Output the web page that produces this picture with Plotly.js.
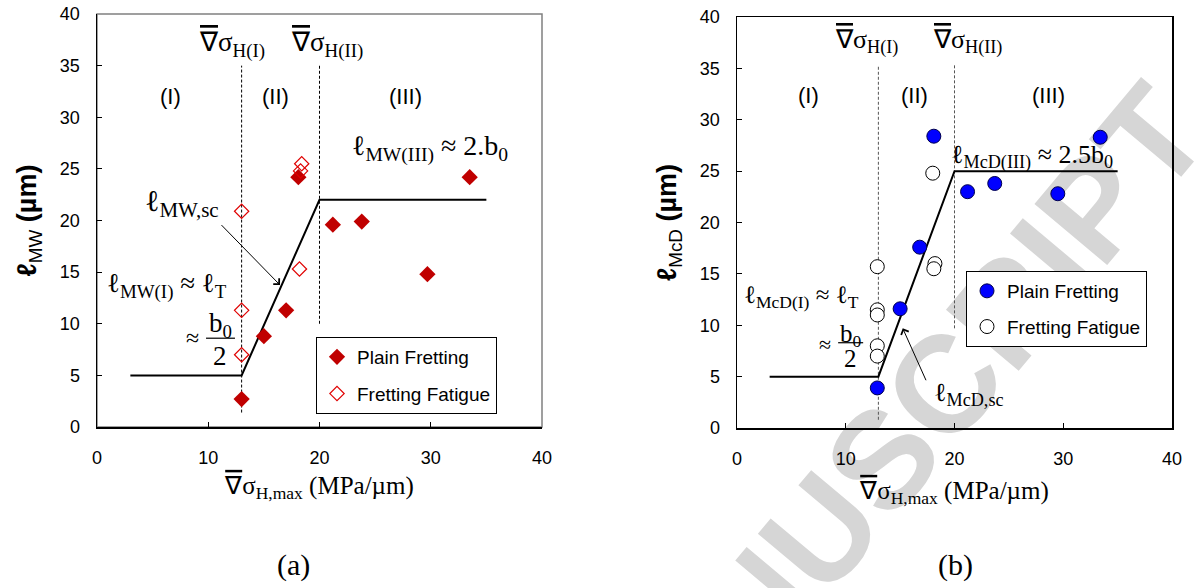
<!DOCTYPE html>
<html><head><meta charset="utf-8">
<script src="https://cdn.plot.ly/plotly-3.0.1.min.js"></script>
<style>html,body{margin:0;padding:0;background:#fff}#chart{width:1195px;height:588px}</style>
</head><body><div id="chart"></div>
<script>
// ---------- data: panel (a) Mitchell-Wright length ----------
const aPlainX   = [13.0, 15.0, 17.0, 18.1, 21.2, 23.8, 29.7, 33.5];
const aPlainY   = [2.7, 8.8, 11.3, 24.2, 19.6, 19.9, 14.8, 24.2];
const aFatigueX = [13.0, 13.0, 13.0, 18.2, 18.3, 18.4];
const aFatigueY = [20.9, 11.3, 7.0, 15.3, 24.8, 25.5];
const aModelX   = [3, 13, 20, 35];
const aModelY   = [5, 5, 22, 22];
const aThreshX  = [13, 20];
const aThreshLo = [1.4, 10];
const aThreshHi = [35, 35];

// ---------- data: panel (b) McDiarmid length ----------
const bPlainX   = [12.9, 15.0, 16.8, 18.1, 21.2, 23.7, 29.5, 33.4];
const bPlainY   = [3.9, 11.6, 17.6, 28.4, 23.0, 23.8, 22.8, 28.3];
const bFatigueX = [12.9, 12.9, 12.9, 12.9, 12.9, 18.2, 18.1, 18.0];
const bFatigueY = [15.7, 11.5, 11.0, 8.0, 7.0, 16.0, 15.5, 24.8];
const bModelX   = [3, 13, 20, 35];
const bModelY   = [5, 5, 25, 25];
const bThreshX  = [13, 20];
const bThreshLo = [0.8, 9.7];
const bThreshHi = [35.3, 35.3];

// ---------- ticks / labels ----------
const xTicks = [0, 10, 20, 30, 40];
const yTicks = [0, 5, 10, 15, 20, 25, 30, 35, 40];
const legendNames = ['Plain Fretting', 'Fretting Fatigue'];

const SANS = 'Liberation Sans, Arial, sans-serif';
const SERIF = 'Liberation Serif, Times New Roman, serif';
const NABLA = '<span style="text-decoration:overline">∇</span>';
const W = 1195, H = 588;

function vlines(xs, lo, hi) {
  const x = [], y = [];
  xs.forEach((v, i) => { x.push(v, v, null); y.push(lo[i], hi[i], null); });
  return {x, y};
}
const aV = vlines(aThreshX, aThreshLo, aThreshHi);
const bV = vlines(bThreshX, bThreshLo, bThreshHi);

const traces = [
  {x: aV.x, y: aV.y, xaxis: 'x', yaxis: 'y', mode: 'lines', showlegend: false, hoverinfo: 'skip',
   line: {color: '#000', width: 1, dash: '3px,2px'}},
  {x: aModelX, y: aModelY, xaxis: 'x', yaxis: 'y', mode: 'lines', showlegend: false,
   line: {color: '#000', width: 2}},
  {x: aPlainX, y: aPlainY, xaxis: 'x', yaxis: 'y', mode: 'markers', name: legendNames[0],
   legend: 'legend', legendgroup: 'ap',
   marker: {symbol: 'diamond', size: 12.5, color: '#C00000', line: {width: 0}}},
  {x: aFatigueX, y: aFatigueY, xaxis: 'x', yaxis: 'y', mode: 'markers', name: legendNames[1],
   legend: 'legend', legendgroup: 'af',
   marker: {symbol: 'diamond-open', size: 11, color: '#E00000', line: {width: 1.2, color: '#E00000'}}},

  {x: bV.x, y: bV.y, xaxis: 'x2', yaxis: 'y2', mode: 'lines', showlegend: false, hoverinfo: 'skip',
   line: {color: '#555', width: 1, dash: '3px,2px'}},
  {x: bModelX, y: bModelY, xaxis: 'x2', yaxis: 'y2', mode: 'lines', showlegend: false,
   line: {color: '#000', width: 2}},
  {x: bPlainX, y: bPlainY, xaxis: 'x2', yaxis: 'y2', mode: 'markers', name: legendNames[0],
   legend: 'legend2', legendgroup: 'bp',
   marker: {symbol: 'circle', size: 14, color: '#0000FF', line: {width: 1, color: '#00004d'}}},
  {x: bFatigueX, y: bFatigueY, xaxis: 'x2', yaxis: 'y2', mode: 'markers', name: legendNames[1],
   legend: 'legend2', legendgroup: 'bf',
   marker: {symbol: 'circle', size: 14, color: '#FFFFFF', line: {width: 1, color: '#000'}}}
];

function txt(xr, yr, x, y, text, font, size) {
  return {xref: xr, yref: yr, x, y, text, showarrow: false, xanchor: 'center', yanchor: 'middle',
          font: {family: font, size, color: '#000'}};
}
function arrow(xr, yr, hx, hy, tx, ty) {
  return {xref: xr, yref: yr, axref: xr, ayref: yr, x: hx, y: hy, ax: tx, ay: ty, text: '',
          showarrow: true, arrowhead: 4, arrowsize: 1.6, arrowwidth: 1, arrowcolor: '#000', standoff: 0};
}

const annotations = [
  // panel a
  txt('x','y', 12.1, 37, NABLA + 'σ<sub>H(I)</sub>', SERIF, 27),
  txt('x','y', 20.7, 37, NABLA + 'σ<sub>H(II)</sub>', SERIF, 27),
  txt('x','y', 6.6, 32, '(I)', SANS, 22),
  txt('x','y', 16.0, 32, '(II)', SANS, 22),
  txt('x','y', 27.7, 32, '(III)', SANS, 22),
  txt('x','y', 29.9, 27, 'ℓ<sub>MW(III)</sub> ≈ 2.b<sub>0</sub>', SERIF, 28),
  txt('x','y', 7.6, 21.7, 'ℓ<sub>MW,sc</sub>', SERIF, 30),
  txt('x','y', 6.3, 13.75, 'ℓ<sub>MW(I)</sub> ≈ ℓ<sub>T</sub>', SERIF, 27),
  txt('x','y', 8.6, 8.6, '≈', SERIF, 24),
  txt('x','y', 11.06, 9.9, 'b<sub>0</sub>', SERIF, 27),
  txt('x','y', 11.06, 6.9, '2', SERIF, 27),
  arrow('x','y', 16.45, 13.75, 11.06, 19.7),
  // panel b
  txt('x2','y2', 11.9, 37.6, NABLA + 'σ<sub>H(I)</sub>', SERIF, 26),
  txt('x2','y2', 21.2, 37.6, NABLA + 'σ<sub>H(II)</sub>', SERIF, 26),
  txt('x2','y2', 6.56, 32.4, '(I)', SANS, 22),
  txt('x2','y2', 16.3, 32.4, '(II)', SANS, 22),
  txt('x2','y2', 28.6, 32.4, '(III)', SANS, 22),
  txt('x2','y2', 27.1, 26.4, 'ℓ<sub>McD(III)</sub> ≈ 2.5b<sub>0</sub>', SERIF, 26),
  txt('x2','y2', 5.95, 12.75, 'ℓ<sub>McD(I)</sub> ≈ ℓ<sub>T</sub>', SERIF, 25),
  txt('x2','y2', 8.1, 8.1, '≈', SERIF, 22),
  txt('x2','y2', 10.45, 9.0, 'b<sub>0</sub>', SERIF, 25),
  txt('x2','y2', 10.45, 6.8, '2', SERIF, 25),
  txt('x2','y2', 21.3, 3.3, 'ℓ<sub>McD,sc</sub>', SERIF, 26),
  arrow('x2','y2', 15.24, 9.7, 17.44, 4.5),
  // panel letters
  txt('paper','paper', 293 / W, 1 - 565 / H, '(a)', SERIF, 30),
  txt('paper','paper', 955 / W, 1 - 565 / H, '(b)', SERIF, 30)
];

const shapes = [
  // watermark (behind everything)
  {type: 'rect', xref: 'paper', yref: 'paper', x0: 0.510, x1: 0.521, y0: -0.29, y1: -0.28,
   line: {width: 0}, fillcolor: 'rgba(0,0,0,0)', layer: 'below',
   label: {text: 'ACCEPTED MANUSCRIPT', textangle: -50, textposition: 'middle center',
           font: {family: SANS, size: 138, color: '#d6d6d6', weight: 'bold'}}},
  // grey frame of panel (a)
  {type: 'rect', xref: 'x domain', yref: 'y domain', x0: 0, x1: 1, y0: 0, y1: 1,
   line: {color: '#808080', width: 1.5}, layer: 'below'},
  // fraction bars
  {type: 'line', xref: 'x', yref: 'y', x0: 9.8, x1: 12.4, y0: 8.6, y1: 8.6, line: {color: '#000', width: 1.2}},
  {type: 'line', xref: 'x2', yref: 'y2', x0: 9.3, x1: 11.6, y0: 8.3, y1: 8.3, line: {color: '#000', width: 1.2}}
];

const axCommon = {
  range: [0, 40], showgrid: false, zeroline: false, showline: true, linecolor: '#000', linewidth: 1.5,
  ticks: 'inside', ticklen: 5, tickwidth: 1, tickcolor: '#000',
  tickfont: {family: SANS, size: 18, color: '#000'}, fixedrange: true, automargin: false
};
const xTitle = NABLA + 'σ<sub>H,max</sub> (MPa/µm)';

const layout = {
  width: W, height: H, margin: {l: 0, r: 0, t: 0, b: 0},
  paper_bgcolor: '#fff', plot_bgcolor: 'rgba(0,0,0,0)',
  xaxis: Object.assign({}, axCommon, {domain: [97 / W, 542 / W], anchor: 'y', tickvals: xTicks,
    ticklabelstandoff: 14, title: {text: xTitle, font: {family: SERIF, size: 25, color: '#000'}, standoff: 9}}),
  yaxis: Object.assign({}, axCommon, {domain: [1 - 427 / H, 1 - 14 / H], anchor: 'x', tickvals: yTicks,
    ticklabelstandoff: 12,
    title: {text: '<b>ℓ</b><sub>MW</sub><b> (µm)</b>', font: {family: SANS, size: 27, color: '#000'}, standoff: 15}}),
  xaxis2: Object.assign({}, axCommon, {domain: [737 / W, 1172 / W], anchor: 'y2', tickvals: xTicks, mirror: true,
    ticklabelstandoff: 14, title: {text: xTitle, font: {family: SERIF, size: 25, color: '#000'}, standoff: 13}}),
  yaxis2: Object.assign({}, axCommon, {domain: [1 - 428 / H, 1 - 17 / H], anchor: 'x2', tickvals: yTicks, mirror: true,
    ticklabelstandoff: 12,
    title: {text: '<b>ℓ</b><sub>McD</sub><b> (µm)</b>', font: {family: SANS, size: 27, color: '#000'}, standoff: 15}}),
  legend: {x: 316 / W, y: 1 - 337 / H, xanchor: 'left', yanchor: 'top', traceorder: 'grouped', tracegroupgap: 9,
    bgcolor: '#fff', bordercolor: '#000', borderwidth: 1, font: {family: SANS, size: 19, color: '#000'}},
  legend2: {x: 966 / W, y: 1 - 271 / H, xanchor: 'left', yanchor: 'top', traceorder: 'grouped', tracegroupgap: 8,
    bgcolor: '#fff', bordercolor: '#000', borderwidth: 1, font: {family: SANS, size: 19, color: '#000'}},
  annotations, shapes, hovermode: false
};

Plotly.newPlot('chart', traces, layout, {staticPlot: true, displayModeBar: false});
</script></body></html>
